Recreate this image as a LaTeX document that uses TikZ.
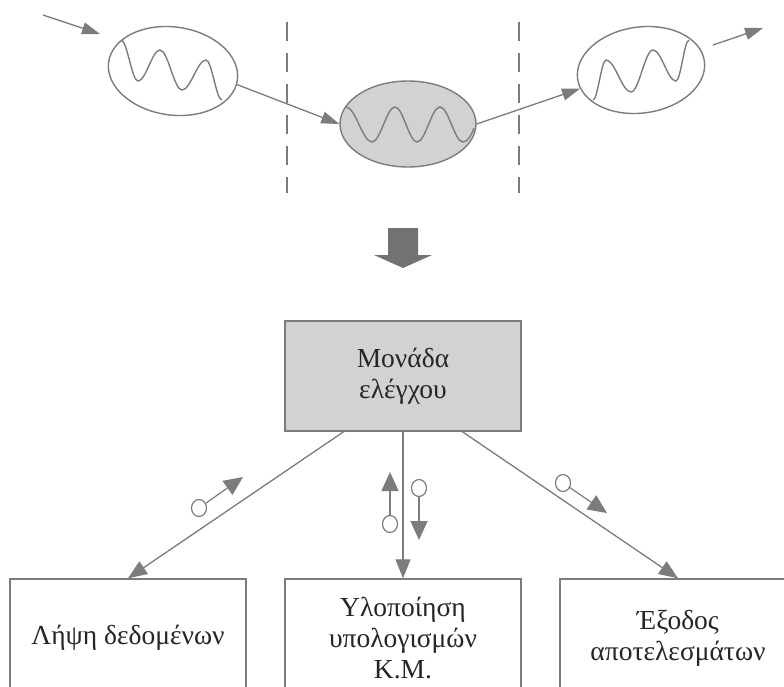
\documentclass[tikz,border=0pt]{standalone}
\usepackage{fontspec}
\setmainfont{Liberation Serif}
\usetikzlibrary{arrows.meta,shapes.geometric,calc}

\definecolor{linegray}{HTML}{7C7C7C}
\definecolor{fillgray}{HTML}{D2D2D2}
\definecolor{textgray}{HTML}{262626}
\definecolor{bigarrow}{HTML}{727272}

\begin{document}
\begin{tikzpicture}[x=1pt,y=-1pt,
  line/.style={draw=linegray, line width=1.3pt},
  tip/.style={-{Triangle[length=19pt,width=15pt]}},
  smalltip/.style={-{Triangle[length=18pt,width=12pt]}},
  symtip/.style={-{Triangle[length=19pt,width=17pt]}},
  cell/.style={draw=linegray, line width=1.4pt, minimum width=236pt,
    minimum height=118pt, inner sep=0pt, align=center, text=textgray,
    font=\fontsize{27.5}{31}\selectfont},
  lamp/.style={ellipse, draw=linegray, line width=1.4pt, inner sep=0pt,
    minimum width=130pt, minimum height=88pt},
  wave/.style={draw=linegray, line width=1.4pt},
  sep/.style={draw=linegray, line width=1.3pt, dash pattern=on 19pt off 12pt},
  token/.style={ellipse, draw=linegray, line width=1.2pt, fill=white,
    inner sep=0pt, minimum width=15pt, minimum height=17pt},
]
\useasboundingbox (0,0) rectangle (784,686);
\fill[white] (0,0) rectangle (784,686);
\clip (0,0) rectangle (784,686);

% separators between the stages
\draw[sep] (287,22) -- (287,193);
\draw[sep] (519,22) -- (519,193);

% the three stages
\node[lamp, rotate=-8] (L) at (173,71) {};
\node[lamp, fill=fillgray, minimum width=136pt, minimum height=86pt] (M) at (408,124) {};
\node[lamp, rotate=8, minimum width=128pt, minimum height=86pt] (R) at (641,70) {};

% waves inside the stages
\draw[wave] (121,40) .. controls (127.2,40) and (131.8,81) .. (138,81)
  .. controls (146,81) and (152,50) .. (160,50)
  .. controls (168,50) and (174,90) .. (182,90)
  .. controls (190.7,90) and (197.3,60) .. (206,60)
  .. controls (211.8,60) and (216.2,100) .. (222,100);
\draw[wave] (346,107) .. controls (355.5,107) and (362.5,142) .. (372,142)
  .. controls (380.4,142) and (386.6,107) .. (395,107)
  .. controls (403,107) and (409,142) .. (417,142)
  .. controls (425.4,142) and (431.6,107) .. (440,107)
  .. controls (448.4,107) and (454.6,142) .. (463,142)
  .. controls (468,142) and (472,134) .. (474,128);
\draw[wave] (593,100) .. controls (597.7,100) and (601.3,60) .. (606,60)
  .. controls (615.1,60) and (621.9,92) .. (631,92)
  .. controls (639,92) and (645,50) .. (653,50)
  .. controls (661.4,50) and (667.6,81) .. (676,81)
  .. controls (680.7,81) and (684.3,40) .. (689,40);

% flow through the stages
\coordinate (inA) at (43,15);
\coordinate (inB) at (100,34);
\coordinate (outA) at (713,45);
\coordinate (outB) at (763,28);
\draw[line, smalltip] (inA) -- (inB);
\draw[line, smalltip] (L.-4) -- (M.west);
\draw[line, smalltip] (M.east) -- (R.189);
\draw[line, smalltip] (outA) -- (outB);

% block arrow
\fill[bigarrow] (388,228) -- (418,228) -- (418,255) -- (432,255) -- (403,268)
  -- (374,255) -- (388,255) -- cycle;

% control unit and its tasks
\node[cell, fill=fillgray, minimum height=110pt] (C) at (403,376) {Μονάδα\\ελέγχου};
\node[cell] (B1) at (128,638) {Λήψη δεδομένων};
\node[cell] (B2) at (403,638) {Υλοποίηση\\υπολογισμών\\Κ.Μ.};
\node[cell] (B3) at (678,638) {Έξοδος\\αποτελεσμάτων};

\draw[line, tip] ($(C.south west)!0.25!(C.south east)$) -- (B1.north);
\draw[line, tip] (C.south) -- (B2.north);
\draw[line, tip] ($(C.south west)!0.75!(C.south east)$) -- (B3.north);

% message tokens
\node[token] (t1) at (199,508) {};
\coordinate (t1e) at (243,477);
\node[token] (t2) at (390,524) {};
\coordinate (t2e) at (390,472);
\node[token] (t3) at (419,488) {};
\coordinate (t3e) at (419,540);
\node[token] (t4) at (563,483) {};
\coordinate (t4e) at (607,513);
\draw[line, line width=1.2pt, symtip] (t1) -- (t1e);
\draw[line, line width=1.2pt, symtip] (t2) -- (t2e);
\draw[line, line width=1.2pt, symtip] (t3) -- (t3e);
\draw[line, line width=1.2pt, symtip] (t4) -- (t4e);
\end{tikzpicture}
\end{document}
